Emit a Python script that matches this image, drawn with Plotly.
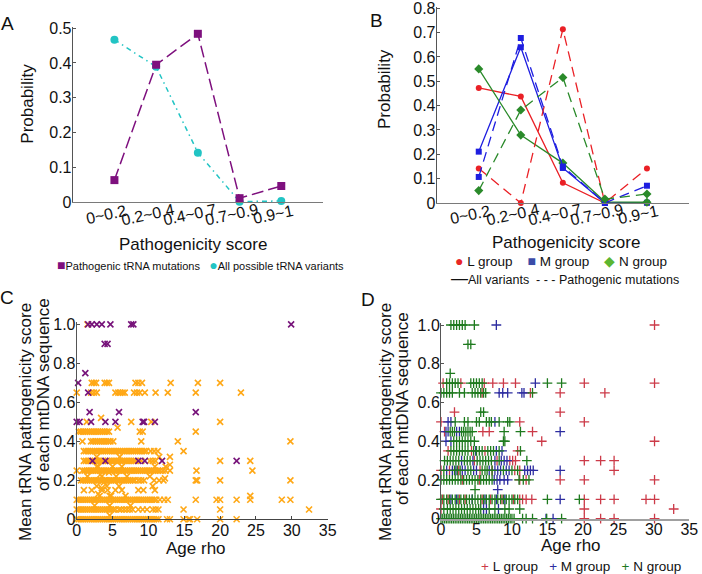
import plotly.graph_objects as go

W, H = 702, 574
FONT = "Liberation Sans, Arial, sans-serif"

# ---------------- data ----------------
score_bins = ["0~0.2", "0.2~0.4", "0.4~0.7", "0.7~0.9", "0.9~1"]

# Panel A
a_pathogenic = [0.063, 0.395, 0.484, 0.011, 0.046]
a_all_possible = [0.467, 0.389, 0.142, 0.001, 0.003]
a_yticks = [0, 0.1, 0.2, 0.3, 0.4, 0.5]
a_yticklabels = ["0", "0.1", "0.2", "0.3", "0.4", "0.5"]

# Panel B
b_L_all = [0.473, 0.438, 0.083, 0.0, 0.0]
b_L_path = [0.142, 0.0, 0.714, 0.0, 0.142]
b_M_all = [0.211, 0.640, 0.144, 0.0, 0.001]
b_M_path = [0.107, 0.678, 0.150, 0.0, 0.071]
b_N_all = [0.551, 0.279, 0.164, 0.005, 0.003]
b_N_path = [0.051, 0.382, 0.516, 0.016, 0.037]
b_yticks = [0, 0.1, 0.2, 0.3, 0.4, 0.5, 0.6, 0.7, 0.8]
b_yticklabels = ["0", "0.1", "0.2", "0.3", "0.4", "0.5", "0.6", "0.7", "0.8"]

# Panels C/D axes
age_ticks = [0, 5, 10, 15, 20, 25, 30, 35]
score_ticks = [0, 0.2, 0.4, 0.6, 0.8, 1.0]
score_ticklabels = ["0", "0.2", "0.4", "0.6", "0.8", "1.0"]

# Panel C: orange (all sequences), rows of age rho at each mean score level
c_or_y000 = [0.0, 0.3, 0.6, 0.9, 1.2, 1.5, 1.8, 2.1, 2.4, 2.7, 3.0, 3.3, 3.6, 3.9, 4.2, 4.5, 4.8, 5.1, 5.4, 5.7,
             6.0, 6.3, 6.6, 6.9, 7.2, 7.5, 7.8, 8.1, 8.4, 8.7, 9.0, 9.3, 9.6, 9.9, 10.2, 10.5, 10.8, 11.1, 11.4,
             12.6, 13.0, 14.9, 15.6, 15.8, 16.8, 20.0, 22.3]
c_or_y005 = [0.0, 0.3, 0.6, 0.9, 1.2, 1.5, 1.8, 2.1, 2.4, 2.7, 3.0, 3.3, 3.6, 3.9, 4.2, 4.5, 4.8, 5.1, 5.4,
             5.9, 6.2, 6.6, 7.0, 7.4, 7.8, 8.6, 9.2, 9.8, 10.6, 11.0, 11.4, 14.9, 20.0, 32.4]
c_or_y010 = [0.0, 0.3, 0.6, 0.9, 1.2, 1.5, 1.8, 2.1, 2.4, 2.7, 3.0, 3.3, 3.6, 3.9, 4.2, 4.5, 4.8, 5.1, 5.4, 5.7,
             6.0, 6.3, 6.6, 6.9, 7.2, 7.5, 7.8, 8.1, 8.4, 8.7, 9.0, 9.3, 9.6, 9.9, 10.2, 10.5, 10.8, 11.1, 11.6,
             12.2, 12.7, 16.6, 19.5, 20.0, 22.3, 24.2, 28.6, 29.8]
c_or_y015 = [1.0, 2.1, 3.5, 5.4, 6.3, 8.6, 9.3, 10.9]
c_or_y020 = [0.6, 0.9, 1.2, 1.5, 1.8, 2.1, 2.4, 2.7, 3.0, 3.3, 3.6, 3.9, 4.2, 4.5, 4.8, 5.1, 5.4, 5.7, 6.0, 6.3,
             6.6, 6.9, 7.2, 7.5, 7.8, 8.1, 8.6, 9.0, 9.4, 10.8, 11.5, 12.1, 16.6, 16.8, 20.0, 29.8]
c_or_y025 = [0.0, 0.8, 1.1, 1.4, 1.7, 2.0, 2.3, 2.6, 2.9, 3.2, 3.5, 3.8, 4.1, 4.4, 4.7, 5.0, 5.3, 5.6, 5.9, 6.2,
             6.5, 6.8, 7.1, 7.4, 7.7, 8.0, 8.3, 8.6, 8.9, 9.2, 9.5, 9.8, 10.1, 10.4, 10.7, 11.0, 11.3, 11.6, 12.0,
             12.4, 13.0, 16.7, 24.5]
c_or_y030 = [1.0, 1.3, 1.6, 1.9, 2.5, 2.8, 3.1, 3.4, 3.7, 4.3, 4.6, 4.9, 5.2, 5.5, 5.8, 6.1, 6.4, 6.7, 7.0, 7.3,
             7.6, 7.9, 8.2, 9.0, 10.2, 10.6, 11.0, 20.0, 24.2]
c_or_y035 = [1.0, 1.3, 1.6, 1.9, 2.2, 2.5, 2.8, 3.1, 3.4, 3.7, 4.0, 4.3, 4.6, 4.9, 5.2, 5.5, 5.8, 6.1, 6.4, 6.7,
             7.0, 7.3, 7.6, 7.9, 8.2, 8.5, 8.8, 9.1, 9.4, 9.7, 10.3, 10.8, 11.3, 14.9]
c_or_y040 = [0.8, 2.0, 2.3, 2.6, 2.9, 3.2, 3.5, 3.8, 4.1, 4.4, 4.7, 5.1, 9.0, 14.1, 29.8]
c_or_y045 = [0.3, 0.6, 0.9, 1.2, 1.5, 1.8, 2.1, 2.4, 2.7, 3.0, 3.3, 3.6, 3.9, 4.2, 4.5, 8.8, 9.2, 16.6]
c_or_y050 = [1.4, 7.6, 10.4, 20.0]
c_or_y065 = [0.0, 2.0, 2.4, 2.8, 5.4, 5.8, 6.1, 6.4, 6.7, 8.0, 8.4, 8.8, 9.5, 11.0, 12.7, 16.6, 22.9]
c_or_y070 = [2.1, 2.4, 2.7, 3.9, 4.2, 4.5, 8.2, 8.6, 9.1, 13.1, 16.9, 20.0]
c_or_y100 = [1.5]
c_or_odd_x = [3.4, 5.7, 2.8, 6.0, 11.5, 13.0, 3.0, 6.3, 10.9, 12.4, 13.0, 1.5, 3.5, 5.5, 7.0, 10.2, 12.3,
              2.8, 4.2, 5.9, 10.6, 3.2, 4.6, 6.8, 24.2, 2.5, 4.6, 7.5, 4.6,
              2.8, 3.3, 3.8, 4.3, 4.8, 3.0, 3.5, 4.0, 4.5, 5.0]
c_or_odd_y = [0.52, 0.47, 0.32, 0.32, 0.32, 0.32, 0.27, 0.27, 0.27, 0.27, 0.28, 0.22, 0.22, 0.22, 0.22, 0.22, 0.21,
              0.17, 0.17, 0.17, 0.17, 0.12, 0.12, 0.12, 0.12, 0.07, 0.07, 0.07, 0.02,
              0.27, 0.23, 0.19, 0.15, 0.12, 0.13, 0.16, 0.20, 0.24, 0.27]

# Panel C: purple (sequences with pathogenic tRNA mutations)
c_pu_y030 = [2.2, 4.0, 8.6, 9.5, 11.9, 22.3]
c_pu_y050 = [0.0, 0.4, 2.0, 4.0, 5.4, 9.2, 9.4, 10.9]
c_pu_y055 = [1.8, 5.9, 16.6]
c_pu_y065 = [1.6]
c_pu_y070 = [0.2]
c_pu_y075 = [1.2]
c_pu_y090 = [3.9, 4.3]
c_pu_y100 = [1.6, 2.1, 2.8, 3.5, 4.7, 7.6, 7.9, 29.9]

# Panel D: L group
d_L_y000 = [20.2, 22.5, 24.4, 30.1]
d_L_y005 = [0.0, 20.2, 32.8]
d_L_y010 = [0.2, 1.0, 2.6, 3.4, 5.8, 7.0, 8.6, 10.2, 11.1, 11.5, 12.0, 12.8, 20.2, 22.5, 24.4, 28.9, 30.1]
d_L_y020 = [3.0, 5.4, 11.1, 12.0, 16.8, 20.2, 30.1]
d_L_y025 = [0.0, 1.2, 2.5, 5.5, 7.2, 10.4, 11.1, 24.4]
d_L_y030 = [4.7, 7.9, 9.7, 10.1, 10.5, 20.2, 22.5, 24.4]
d_L_y035 = [1.0, 4.3, 6.2, 10.8]
d_L_y040 = [14.2, 30.1]
d_L_y045 = [0.5, 5.9, 6.8, 12.9]
d_L_y050 = [0.0, 11.1, 20.2]
d_L_y055 = [1.9, 16.8]
d_L_y065 = [5.8, 12.6, 16.8, 23.1]
d_L_y070 = [0.3, 2.8, 6.1, 7.3, 8.8, 10.5, 20.2, 30.1]
d_L_y100 = [30.1]

# Panel D: M group
d_M_y000 = [14.8, 15.8]
d_M_y005 = [6.0, 6.4, 8.1]
d_M_y010 = [1.4, 2.2, 4.4, 6.2, 7.8, 9.0, 16.8]
d_M_y015 = [8.0]
d_M_y020 = [7.5, 7.9, 8.3, 8.9, 9.4]
d_M_y025 = [0.8, 1.6, 2.1, 3.0, 3.4, 4.6, 5.0, 6.8, 7.6, 8.0, 8.4, 9.2, 9.6, 11.8, 12.2, 12.6, 13.0, 16.8]
d_M_y030 = [2.9, 4.5, 7.6, 8.5, 8.9, 9.3]
d_M_y035 = [4.9, 7.8, 8.6]
d_M_y040 = [0.7, 1.4]
d_M_y045 = [0.7, 1.0, 2.2, 2.6, 16.8]
d_M_y050 = [1.0, 1.4, 7.6]
d_M_y065 = [8.2, 8.7, 9.4, 11.4, 11.7]
d_M_y070 = [13.3]
d_M_y100 = [7.8]

# Panel D: N group
d_N_y000 = [0.0, 0.25, 0.5, 0.75, 1.0, 1.25, 1.5, 1.75, 2.0, 2.25, 2.5, 2.75, 3.0, 3.25, 3.5, 3.75, 4.0, 4.25,
            4.5, 4.75, 5.0, 5.25, 5.5, 5.75, 6.0, 6.25, 6.5, 6.75, 7.0, 7.25, 7.5, 7.75, 8.0, 8.25, 8.5, 8.75,
            9.0, 9.25, 9.5, 9.75, 10.0, 10.3, 11.5, 12.0, 12.9, 14.9, 17.0]
d_N_y005 = [0.4, 0.9, 1.3, 1.7, 2.1, 2.5, 2.9, 3.3, 3.7, 4.1, 4.5, 4.9, 5.3, 5.6, 6.8, 7.6, 9.0, 9.6, 11.1]
d_N_y010 = [0.0, 0.4, 0.8, 1.2, 1.6, 2.0, 2.4, 2.8, 3.2, 3.6, 4.0, 4.4, 4.8, 5.2, 5.6, 6.0, 6.4, 6.8, 7.2,
            7.6, 8.0, 8.4, 8.8, 9.2, 9.6, 10.0, 10.4, 10.8, 15.0, 19.5]
d_N_y015 = [4.8]
d_N_y020 = [0.0, 0.4, 0.8, 1.2, 1.6, 2.0, 2.4, 2.8, 3.2, 3.6, 4.0, 4.4, 4.8, 5.2, 5.6, 6.0, 6.4, 6.8, 7.2,
            11.0, 11.6, 12.4]
d_N_y025 = [0.4, 1.9, 2.3, 2.7, 3.8, 4.2, 5.8, 6.2, 6.5, 7.2, 8.8, 10.0, 10.8]
d_N_y030 = [0.5, 0.9, 1.3, 1.7, 2.1, 2.5, 3.3, 3.7, 4.1, 5.1, 5.5, 5.9, 6.3, 6.7, 7.1, 8.2, 12.1]
d_N_y035 = [1.4, 1.8, 2.2, 2.6, 3.0, 3.4, 3.8, 4.6, 5.0, 5.4, 5.8, 6.6, 7.0, 7.4, 8.2, 11.2]
d_N_y040 = [1.8, 2.2, 2.6, 3.0, 3.4, 3.8, 4.2, 4.7, 8.8, 9.0]
d_N_y045 = [1.3, 1.6, 1.9, 2.9, 3.2, 3.5, 3.8, 4.1, 4.4, 8.9, 11.2]
d_N_y050 = [2.0, 3.3, 3.8, 5.0, 5.4, 6.4, 6.8, 7.1, 8.2, 9.4, 9.7]
d_N_y055 = [5.6, 6.0]
d_N_y065 = [0.0, 0.4, 0.8, 1.2, 1.6, 2.6, 3.3, 4.4, 4.8, 5.2, 5.6, 6.0, 6.3, 12.9]
d_N_y070 = [0.8, 1.2, 1.6, 2.0, 2.4, 4.2, 4.6, 5.0, 5.4, 5.8, 15.0, 17.0]
d_N_y075 = [1.3]
d_N_y090 = [3.8, 4.2]
d_N_y100 = [1.4, 1.8, 2.2, 2.6, 3.0, 3.4, 4.7]


def rows(pairs):
    xs, ys = [], []
    for level, xvals in pairs:
        xs.extend(xvals)
        ys.extend([level] * len(xvals))
    return xs, ys


c_or_x, c_or_y = rows([(0.0, c_or_y000), (0.05, c_or_y005), (0.1, c_or_y010), (0.15, c_or_y015),
                       (0.2, c_or_y020), (0.25, c_or_y025), (0.3, c_or_y030), (0.35, c_or_y035),
                       (0.4, c_or_y040), (0.45, c_or_y045), (0.5, c_or_y050), (0.65, c_or_y065),
                       (0.7, c_or_y070), (1.0, c_or_y100)])
c_or_x += c_or_odd_x
c_or_y += c_or_odd_y
c_pu_x, c_pu_y = rows([(0.3, c_pu_y030), (0.5, c_pu_y050), (0.55, c_pu_y055), (0.65, c_pu_y065),
                       (0.7, c_pu_y070), (0.75, c_pu_y075), (0.9, c_pu_y090), (1.0, c_pu_y100)])
d_L_x, d_L_yv = rows([(0.0, d_L_y000), (0.05, d_L_y005), (0.1, d_L_y010), (0.2, d_L_y020), (0.25, d_L_y025),
                      (0.3, d_L_y030), (0.35, d_L_y035), (0.4, d_L_y040), (0.45, d_L_y045), (0.5, d_L_y050),
                      (0.55, d_L_y055), (0.65, d_L_y065), (0.7, d_L_y070), (1.0, d_L_y100)])
d_M_x, d_M_yv = rows([(0.0, d_M_y000), (0.05, d_M_y005), (0.1, d_M_y010), (0.15, d_M_y015), (0.2, d_M_y020),
                      (0.25, d_M_y025), (0.3, d_M_y030), (0.35, d_M_y035), (0.4, d_M_y040), (0.45, d_M_y045),
                      (0.5, d_M_y050), (0.65, d_M_y065), (0.7, d_M_y070), (1.0, d_M_y100)])
d_N_x, d_N_yv = rows([(0.0, d_N_y000), (0.05, d_N_y005), (0.1, d_N_y010), (0.15, d_N_y015), (0.2, d_N_y020),
                      (0.25, d_N_y025), (0.3, d_N_y030), (0.35, d_N_y035), (0.4, d_N_y040), (0.45, d_N_y045),
                      (0.5, d_N_y050), (0.55, d_N_y055), (0.65, d_N_y065), (0.7, d_N_y070), (0.75, d_N_y075),
                      (0.9, d_N_y090), (1.0, d_N_y100)])

# ---------------- styles ----------------
PURPLE = "#7E107E"
CYAN = "#22C4C4"
RED = "#EA2026"
BLUE = "#1E1EE0"
GREEN = "#2A8A2A"
ORANGE = "#FFA816"
C_PURPLE = "#77137A"
D_RED = "#CC3A48"
D_BLUE = "#2C2CA0"
D_GREEN = "#1E7A1E"


def px(x):
    return x / W


def py(y):
    return 1 - y / H


fig = go.Figure()

# Panel A
fig.add_trace(go.Scatter(x=score_bins, y=a_all_possible, mode="lines+markers", xaxis="x", yaxis="y",
                         line=dict(color=CYAN, width=1.5, dash="5px,4px,1.5px,4px"),
                         marker=dict(symbol="circle", size=8, color=CYAN), showlegend=False, cliponaxis=False))
fig.add_trace(go.Scatter(x=score_bins, y=a_pathogenic, mode="lines+markers", xaxis="x", yaxis="y",
                         line=dict(color=PURPLE, width=1.5, dash="12px,5px"),
                         marker=dict(symbol="square", size=8, color=PURPLE), showlegend=False, cliponaxis=False))

# Panel B
for vals, col, sym, dash, size in [
    (b_L_all, RED, "circle", "solid", 6), (b_M_all, BLUE, "square", "solid", 6), (b_N_all, GREEN, "diamond", "solid", 7),
    (b_L_path, RED, "circle", "10px,6px", 6), (b_M_path, BLUE, "square", "10px,6px", 6),
    (b_N_path, GREEN, "diamond", "10px,6px", 7)]:
    fig.add_trace(go.Scatter(x=score_bins, y=vals, mode="lines+markers", xaxis="x2", yaxis="y2",
                             line=dict(color=col, width=1.3, dash=dash),
                             marker=dict(symbol=sym, size=size, color=col), showlegend=False, cliponaxis=False))

# Panel C
fig.add_trace(go.Scatter(x=c_or_x, y=c_or_y, mode="markers", xaxis="x3", yaxis="y3",
                         marker=dict(symbol="x-thin", size=6, line=dict(width=1.6, color=ORANGE)),
                         showlegend=False, cliponaxis=False))
fig.add_trace(go.Scatter(x=c_pu_x, y=c_pu_y, mode="markers", xaxis="x3", yaxis="y3",
                         marker=dict(symbol="x-thin", size=6, line=dict(width=1.6, color=C_PURPLE)),
                         showlegend=False, cliponaxis=False))

# Panel D
for xs, ys, col in [(d_L_x, d_L_yv, D_RED), (d_M_x, d_M_yv, D_BLUE), (d_N_x, d_N_yv, D_GREEN)]:
    fig.add_trace(go.Scatter(x=xs, y=ys, mode="markers", xaxis="x4", yaxis="y4",
                             marker=dict(symbol="cross-thin", size=7, line=dict(width=1.3, color=col)),
                             showlegend=False, cliponaxis=False))

tickfont = dict(family=FONT, size=16, color="#111")


def cat_xaxis(x0, x1, anchor):
    return dict(domain=[px(x0), px(x1)], anchor=anchor, type="category", categoryorder="array",
                categoryarray=score_bins, range=[-1, 5], showline=True, linecolor="#7a7a7a", linewidth=1,
                ticks="", showticklabels=False, showgrid=False, zeroline=False, automargin=False)


def val_yaxis(y0, y1, rng, tv, tt, anchor):
    return dict(domain=[py(y0), py(y1)], anchor=anchor, range=rng, tickvals=tv, ticktext=tt,
                showline=True, linecolor="#555", linewidth=1, ticks="inside", ticklen=3, tickcolor="#555",
                tickfont=tickfont, ticklabelstandoff=-3, ticklabeloverflow="allow",
                showgrid=False, zeroline=False, automargin=False)


fig.update_layout(
    template="none",
    width=W, height=H, margin=dict(l=0, r=0, t=0, b=0, autoexpand=False),
    paper_bgcolor="white", plot_bgcolor="white", font=dict(family=FONT, color="#111"),
    xaxis=cat_xaxis(72.7, 323, "y"),
    yaxis=val_yaxis(202, 26.5, [0, 0.505], a_yticks, a_yticklabels, "x"),
    xaxis2=cat_xaxis(436.7, 689, "y2"),
    yaxis2=val_yaxis(203, 7.1, [0, 0.805], b_yticks, b_yticklabels, "x2"),
    xaxis3=dict(domain=[px(76.7), px(327.7)], anchor="y3", range=[0, 35], tickvals=age_ticks,
                showline=True, linecolor="#444", linewidth=1, ticks="inside", ticklen=3, tickcolor="#444",
                tickfont=tickfont, ticklabelstandoff=-4, ticklabeloverflow="allow",
                showgrid=False, zeroline=False, automargin=False),
    yaxis3=val_yaxis(519.3, 321.8, [0, 1.013], score_ticks, score_ticklabels, "x3"),
    xaxis4=dict(domain=[px(441), px(689.3)], anchor="y4", range=[0, 35], tickvals=age_ticks,
                showline=True, linecolor="#a0a0a0", linewidth=2, ticks="", tickfont=tickfont,
                ticklabelstandoff=-5, ticklabeloverflow="allow",
                showgrid=False, zeroline=False, automargin=False),
    yaxis4=val_yaxis(518.7, 322.5, [0, 1.013], score_ticks, score_ticklabels, "x4"),
)


def note(text, x, y, size, angle=0, anchor="center"):
    fig.add_annotation(text=text, x=px(x), y=py(y), xref="paper", yref="paper", showarrow=False,
                       xanchor=anchor, yanchor="middle", textangle=angle,
                       font=dict(family=FONT, size=size, color="#111"))


# tilted category tick labels for panels A and B (placed by the category axes)
for xr in ["x", "x2"]:
    for b in score_bins:
        fig.add_annotation(text=b, x=b, xref=xr, y=py(215), yref="paper", showarrow=False,
                           xanchor="center", yanchor="middle", textangle=-12, xshift=-8,
                           font=dict(family=FONT, size=16, color="#111"))

# panel letters
note("A", 7.5, 23, 19)
note("B", 376, 20, 19)
note("C", 7, 297, 19)
note("D", 368, 299, 19)

# axis titles
note("Probability", 26.7, 104, 17, -90)
note("Probability", 385, 89, 17, -90)
note("Pathogenicity score", 192.5, 244, 17)
note("Pathogenicity score", 566, 243, 17)
note("Mean tRNA pathogenicity score", 25, 422, 17, -90)
note("of each mtDNA sequence", 43, 395, 17, -90)
note("Age rho", 196, 548, 17)
note("Mean tRNA pathogenicity score", 385, 422, 17, -90)
note("of each mtDNA sequence", 402, 409, 17, -90)
note("Age rho", 571, 545, 17)

# legends
note(f"<span style='color:{PURPLE};font-size:14px'>■</span>Pathogenic tRNA mutations&nbsp;&nbsp;&nbsp;"
     f"<span style='color:{CYAN};font-size:14px'>●</span>All possible tRNA variants", 55, 265, 11, anchor="left")
note(f"<span style='color:#E82626;font-size:14px'>●</span>&nbsp;L group&nbsp;&nbsp;&nbsp;&nbsp;"
     f"<span style='color:#3A4CA8;font-size:14px'>■</span>&nbsp;M group&nbsp;&nbsp;&nbsp;&nbsp;"
     f"<span style='color:#5CB531;font-size:14px'>◆</span>&nbsp;N group", 453, 261, 13.5, anchor="left")
note("<span style='font-size:17px'>—</span>All variants&nbsp;&nbsp;- - -&nbsp;Pathogenic mutations",
     449, 278, 12.5, anchor="left")
note(f"<span style='color:{D_RED}'>+</span>&nbsp;L group&nbsp;&nbsp;&nbsp;"
     f"<span style='color:{D_BLUE}'>+</span>&nbsp;M group&nbsp;&nbsp;&nbsp;"
     f"<span style='color:{D_GREEN}'>+</span>&nbsp;N group", 479, 566, 13.5, anchor="left")

fig.write_html("out.html", config={"displayModeBar": False},
               post_script="document.body.style.margin='0px';")
